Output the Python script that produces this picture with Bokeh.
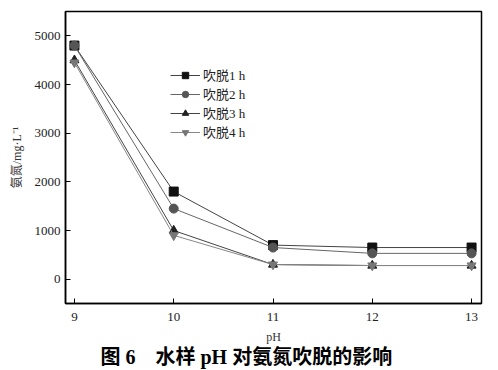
from bokeh.plotting import figure
from bokeh.models import Legend, LegendItem, Title, FixedTicker, Range1d
from bokeh.embed import file_html
from bokeh.resources import INLINE

ph = [9, 10, 11, 12, 13]
s1 = [4800, 1800, 700, 650, 650]
s2 = [4800, 1450, 650, 530, 530]
s3 = [4500, 1000, 300, 280, 280]
s4 = [4450, 900, 300, 280, 280]
names = ["吹脱1 h", "吹脱2 h", "吹脱3 h", "吹脱4 h"]
yticks = [0, 1000, 2000, 3000, 4000, 5000]
xticks = [9, 10, 11, 12, 13]

SERIF = "'Liberation Serif', 'Times New Roman', 'Noto Sans CJK SC', serif"

p = figure(width=490, height=370, output_backend="svg", toolbar_location=None,
           x_range=Range1d(8.91, 13.1), y_range=Range1d(-500, 5500),
           min_border_left=65, min_border_right=9, min_border_top=11, min_border_bottom=67)
p.background_fill_color = "white"
p.border_fill_color = "white"
p.grid.visible = False
p.outline_line_color = "black"
p.outline_line_width = 1.5

for ax in (p.xaxis[0], p.yaxis[0]):
    ax.major_tick_in = 5
    ax.major_tick_out = 0
    ax.minor_tick_line_color = None
    ax.axis_line_color = "black"
    ax.axis_line_width = 1.5
    ax.major_tick_line_color = "black"
    ax.major_label_text_font = SERIF
    ax.major_label_text_font_size = "13px"
    ax.major_label_text_color = "#222222"
    ax.axis_label_text_font = SERIF
    ax.axis_label_text_font_style = "normal"
    ax.axis_label_text_font_size = "12px"
    ax.axis_label_text_color = "#333333"
p.xaxis.ticker = FixedTicker(ticks=xticks)
p.yaxis.ticker = FixedTicker(ticks=yticks)
p.xaxis.axis_label = "pH"
p.yaxis.axis_label = "氨氮/mg·L⁻¹"
p.xaxis.major_label_standoff = 9
p.xaxis.axis_label_standoff = 6
p.yaxis.major_label_standoff = 5
p.yaxis.axis_label_standoff = 8

series = [s1, s2, s3, s4]
markers = ["square", "circle", "triangle", "inverted_triangle"]
mcolors = ["#111111", "#555555", "#222222", "#777777"]
lcolors = ["#444444", "#666666", "#444444", "#888888"]
items = []
for ys, mk, mc, lc, nm in zip(series, markers, mcolors, lcolors, names):
    r1 = p.line(ph, ys, line_color=lc, line_width=1)
    r2 = p.scatter(ph, ys, marker=mk, size=9, fill_color=mc, line_color=mc)
    items.append(LegendItem(label=nm, renderers=[r1, r2]))

legend = Legend(items=items, location=(105, 162), padding=0, margin=0, spacing=0,
                label_height=16, glyph_height=16, glyph_width=30, label_standoff=3,
                label_text_font=SERIF, label_text_font_size="13px",
                label_text_color="#222222",
                background_fill_alpha=0, border_line_color=None)
p.add_layout(legend, "center")

cap = Title(text="图 6\u3000水样 pH 对氨氮吹脱的影响", align="left", offset=35,
            standoff=-5, text_font="'Liberation Serif', 'Noto Sans CJK SC', serif",
            text_font_style="bold", text_font_size="20px", text_color="black")
p.add_layout(cap, "below")

open("out.html", "w").write(file_html(p, INLINE))
